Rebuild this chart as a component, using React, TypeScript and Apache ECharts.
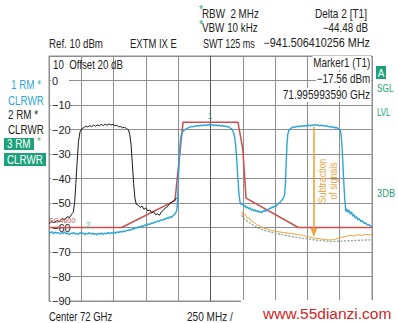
import React, { useEffect, useRef } from "react";
import * as echarts from "echarts";

const FONT = "'Liberation Sans', Arial, sans-serif";

// Frequency offsets from center (MHz), levels in dBm
const xTicks = { min: -1250, max: 1250, step: 250 };
const yTicks = { min: -90, max: 10, step: 10 };

const trace1Blue: [number, number][] = [
  [-1250,-61.6],[-1238,-62.2],[-1226,-61.7],[-1214,-62.5],[-1202,-61.9],[-1190,-62.3],[-1178,-62.0],[-1166,-62.7],[-1154,-62.1],[-1142,-62.4],
  [-1130,-61.8],[-1118,-62.6],[-1106,-62.2],[-1094,-62.9],[-1082,-62.3],[-1070,-62.5],[-1058,-62.0],[-1046,-62.7],[-1034,-62.4],[-1022,-62.8],
  [-1010,-62.1],[-998,-62.5],[-986,-62.2],[-974,-62.9],[-962,-62.4],[-950,-62.6],[-938,-62.1],[-926,-62.7],[-914,-62.3],[-902,-62.8],
  [-890,-62.5],[-878,-63.0],[-866,-62.4],[-854,-62.7],[-842,-62.2],[-830,-62.8],[-818,-62.3],[-806,-62.6],[-794,-62.0],[-782,-62.5],
  [-770,-62.1],[-758,-62.4],[-746,-61.9],[-734,-62.3],[-722,-61.8],[-710,-62.1],[-698,-61.6],[-686,-61.9],[-674,-61.4],[-662,-61.7],
  [-650,-61.1],[-638,-61.3],[-626,-60.8],[-614,-61.0],[-602,-60.4],[-590,-60.6],[-578,-60.0],[-566,-60.3],[-554,-59.6],[-542,-59.9],
  [-530,-59.3],[-518,-59.5],[-506,-58.9],[-494,-59.2],[-482,-58.5],[-470,-58.8],[-458,-58.1],[-446,-58.4],[-434,-57.7],[-422,-58.0],
  [-410,-57.3],[-398,-57.6],[-386,-56.9],[-374,-57.2],[-362,-56.5],[-350,-56.8],[-338,-56.0],[-326,-56.3],[-314,-55.6],[-302,-55.9],
  [-290,-55.2],[-278,-54.6],[-268,-54.0],[-260,-52.5],[-254,-48],[-248,-40],[-242,-32],[-236,-26],[-228,-22.5],[-218,-21.0],
  [-206,-20.4],[-194,-19.9],[-182,-19.6],[-170,-19.2],[-158,-19.0],[-146,-18.7],[-134,-18.9],[-122,-18.5],[-110,-18.7],[-98,-18.3],
  [-86,-18.6],[-74,-18.2],[-62,-18.5],[-50,-18.1],[-38,-18.4],[-26,-18.0],[-14,-18.3],[-4,-17.6],[6,-18.2],[18,-18.0],
  [30,-18.4],[42,-18.1],[54,-18.5],[66,-18.2],[78,-18.6],[90,-18.3],[102,-18.7],[114,-18.5],[126,-18.9],[138,-18.8],
  [150,-19.3],[160,-19.6],[170,-20.3],[180,-21.5],[188,-23.5],[196,-27],[204,-33],[212,-40],[220,-46],[228,-49.5],
  [236,-50.6],[246,-50.2],[256,-51.3],[266,-50.9],[276,-52.0],[286,-51.6],[296,-52.4],[306,-52.0],[316,-52.9],[326,-52.5],
  [336,-53.3],[346,-52.8],[356,-53.6],[366,-53.1],[376,-53.8],[386,-53.4],[396,-54.0],[406,-53.5],[416,-53.0],[426,-53.4],
  [436,-52.6],[446,-52.9],[456,-52.1],[466,-52.3],[476,-51.6],[486,-51.9],[496,-51.2],[506,-51.4],[516,-50.7],[526,-50.2],
  [536,-49.8],[546,-49.2],[556,-48.6],[566,-47.8],[574,-46.5],[580,-42],[586,-33],[592,-26],[598,-22],[606,-20.5],
  [616,-19.8],[628,-19.3],[640,-18.9],[652,-19.1],[664,-18.7],[676,-18.9],[688,-18.5],[700,-18.8],[712,-18.4],[724,-18.7],
  [736,-18.3],[748,-18.6],[760,-18.2],[772,-18.5],[784,-18.1],[796,-18.4],[808,-18.0],[820,-18.3],[832,-18.1],[844,-18.5],
  [856,-18.2],[868,-18.6],[880,-18.3],[892,-18.7],[904,-18.5],[916,-18.9],[928,-18.7],[940,-19.1],[952,-18.9],[964,-19.3],
  [976,-19.2],[988,-19.6],[1000,-20.0],[1008,-21],[1016,-25],[1024,-33],[1032,-42],[1040,-49],[1048,-53.5],[1056,-52.4],
  [1064,-53.8],[1072,-52.9],[1082,-54.6],[1092,-53.6],[1102,-55.4],[1112,-54.8],[1122,-56.2],[1132,-55.6],[1142,-56.9],[1152,-56.4],
  [1164,-57.6],[1176,-57.2],[1188,-58.3],[1200,-58.0],[1212,-58.9],[1224,-58.7],[1236,-59.4],[1250,-59.6],
];

const trace2Black: [number, number][] = [
  [-1250,-58.5],[-1230,-57.6],[-1210,-58.0],[-1190,-57.2],[-1170,-57.6],[-1150,-56.4],[-1130,-56.8],[-1110,-55.6],[-1090,-55.9],[-1075,-54.6],
  [-1062,-53.8],[-1052,-50],[-1042,-42],[-1032,-33],[-1022,-25],[-1010,-21],[-995,-19.6],[-980,-19.2],[-965,-18.6],[-950,-19.0],
  [-935,-18.4],[-920,-18.8],[-905,-18.2],[-890,-18.7],[-875,-18.1],[-860,-18.5],[-845,-17.9],[-830,-18.4],[-815,-17.8],[-800,-18.3],
  [-785,-17.7],[-770,-18.2],[-755,-17.9],[-740,-18.5],[-725,-18.3],[-710,-18.9],[-695,-18.8],[-680,-19.3],[-665,-19.1],[-650,-19.6],
  [-635,-20.2],[-625,-22],[-615,-26],[-605,-34],[-595,-42],[-585,-48],[-575,-50.5],[-560,-50.9],[-545,-51.8],[-530,-51.2],
  [-515,-52.6],[-500,-52.0],[-485,-53.2],[-470,-52.8],[-455,-54.0],[-440,-53.5],[-425,-54.8],[-410,-54.4],[-395,-55.0],[-380,-53.6],
  [-365,-53.0],[-350,-52.0],[-335,-51.6],[-320,-50.5],[-305,-50.0],[-290,-49.2],[-275,-48.6],[-262,-48.0],[-250,-47.5],
];

const trace3Orange: [number, number][] = [
  [240,-53.5],[255,-55.2],[270,-54.6],[285,-56.4],[300,-56.0],[320,-57.6],[340,-58.0],[360,-58.9],[380,-59.4],[410,-60.2],
  [440,-60.6],[470,-61.2],[500,-61.4],[530,-61.8],[560,-62.0],[600,-62.3],[640,-62.6],[680,-62.9],[720,-63.3],[760,-63.8],
  [800,-64.3],[840,-64.6],[880,-64.9],[920,-65.1],[960,-64.9],[990,-64.4],[1020,-63.9],[1050,-63.6],[1080,-63.2],[1110,-63.5],
  [1140,-63.0],[1170,-63.2],[1200,-62.8],[1230,-63.0],[1250,-62.7],
];

const traceGray: [number, number][] = [
  [240,-55],[260,-56.5],[280,-57.2],[300,-58.0],[330,-59.0],[360,-60.0],[400,-60.8],[440,-61.5],[480,-62.0],[520,-62.6],
  [560,-63.0],[600,-63.4],[640,-63.8],[680,-64.1],[720,-64.4],[760,-64.7],[800,-65.0],[840,-65.3],[880,-65.5],[920,-65.7],
  [960,-65.7],[1000,-65.6],[1040,-65.5],[1080,-65.4],[1120,-65.3],[1160,-65.2],[1200,-65.1],[1250,-65.0],
];

const limitLine: [number, number][] = [
  [-1250,-60],[-687.5,-60],[-275,-49],[-212.5,-17],[212.5,-17],[250,-28],[275,-48],[680,-60],[1250,-60],
];

const markerPoints: [number, number][] = [[-4, -17.56], [-945.5, -62.04]];
const markerNames = ["1", "2"];
const arrowPts: [number, number][] = [[800, -19], [800, -62]];

const GREEN = "#1ba27a";
const BLUE = "#2ea6d8";
const RED = "#cf4d4d";
const ORANGE = "#f0a23e";
const GRID = "#8e8e8e";

function txt(x: number, y: number, text: string, opts: any = {}) {
  const { align = "left", fill = "#222", size = 12, bg, padding, z = 100, family = FONT, sx = 0.82 } = opts;
  return {
    type: "text", x, y, z, scaleX: sx,
    style: {
      text, fill, font: `${size}px ${family}`,
      align, textAlign: align, verticalAlign: "middle", textVerticalAlign: "middle",
      ...(bg ? { backgroundColor: bg, padding: padding || [1, 1, 1, 1] } : {}),
    },
  };
}

export default function App() {
  const ref = useRef<HTMLDivElement>(null);
  useEffect(() => {
    if (!ref.current) return;
    const chart = echarts.init(ref.current, null, { renderer: "svg" });
    const minus = (v: number) => (v < 0 ? "\u2212" + Math.abs(v) : String(v));
    chart.setOption({
      animation: false,
      backgroundColor: "#fff",
      grid: { left: 49, top: 56, right: 26, bottom: 22, show: true, borderColor: GRID, borderWidth: 1 },
      xAxis: {
        type: "value", min: xTicks.min, max: xTicks.max, interval: xTicks.step,
        axisLine: { show: false }, axisTick: { show: false }, axisLabel: { show: false },
        splitLine: { show: true, lineStyle: { color: GRID, width: 1 } },
      },
      yAxis: {
        type: "value", min: yTicks.min, max: yTicks.max, interval: yTicks.step,
        axisLine: { show: true, lineStyle: { color: "#555", width: 1 } },
        axisTick: { show: false },
        splitLine: { show: true, lineStyle: { color: GRID, width: 1 } },
        axisLabel: {
          inside: true, margin: 2, color: "#222", fontFamily: FONT, fontSize: 11,
          formatter: (v: number) => (v === yTicks.max ? "" : minus(v)),
          backgroundColor: "#fff", width: 17, padding: [0, 0, 0, 1], align: "left",
        },
      },
      series: [
        { type: "line", data: limitLine, showSymbol: false, lineStyle: { color: RED, width: 1.5 }, itemStyle: { color: RED }, z: 2 },
        { type: "line", data: traceGray, showSymbol: false, lineStyle: { color: "#8aa592", width: 1.3, type: [2, 1.5] }, z: 3 },
        {
          type: "line", data: trace3Orange, showSymbol: false, lineStyle: { color: ORANGE, width: 1 }, z: 4,
          markLine: {
            silent: true, symbol: ["none", "triangle"], symbolSize: [7, 9], animation: false,
            lineStyle: { color: ORANGE, width: 1.6, type: "solid" }, label: { show: false },
            data: [[{ coord: arrowPts[0] }, { coord: arrowPts[1] }]],
          },
        },
        { type: "line", data: trace2Black, showSymbol: false, lineStyle: { color: "#1a1a1a", width: 1 }, z: 5 },
        { type: "line", data: trace1Blue, showSymbol: false, lineStyle: { color: BLUE, width: 1.4 }, z: 6 },
        {
          type: "scatter", data: markerPoints, symbolSize: 0, z: 7,
          label: {
            show: true, position: "top", distance: 3, color: GREEN, fontSize: 9, fontFamily: FONT,
            formatter: (p: any) => markerNames[p.dataIndex],
          },
        },
      ],
      graphic: [
        txt(49, 44, "Ref. 10 dBm", { sx: 0.81 }),
        txt(130, 44, "EXTM IX E", { sx: 0.79 }),
        txt(199, 9, "*", { fill: GREEN, size: 10, sx: 1 }),
        txt(202, 14, "RBW  2 MHz"),
        txt(199, 24, "*", { fill: GREEN, size: 10, sx: 1 }),
        txt(202, 28, "VBW 10 kHz"),
        txt(203, 43, "SWT 125 ms", { sx: 0.75 }),
        txt(367, 14, "Delta 2 [T1]", { align: "right", sx: 0.84 }),
        txt(368, 28, "\u221244.48 dB", { align: "right" }),
        txt(370, 43, "\u2212941.506410256 MHz", { align: "right", sx: 0.9 }),
        txt(53, 65, "10  Offset 20 dB", { sx: 0.81 }),
        txt(371, 63, "Marker1 (T1)", { align: "right", bg: "#fff" }),
        txt(371, 79, "\u221217.56 dBm", { align: "right", bg: "#fff" }),
        txt(371, 95, "71.995993590 GHz", { align: "right", bg: "#fff", sx: 0.84 }),
        { type: "rect", z: 100, shape: { x: 376, y: 66, width: 10, height: 13 }, style: { fill: GREEN } },
        txt(381, 73, "A", { align: "center", fill: "#fff", size: 11, sx: 0.9 }),
        txt(377, 88, "SGL", { fill: GREEN, size: 11, sx: 0.75 }),
        txt(377, 112, "LVL", { fill: GREEN, size: 11, sx: 0.72 }),
        txt(377, 193, "3DB", { fill: GREEN, size: 11, sx: 0.85 }),
        txt(11, 85, "1 RM *", { fill: BLUE }),
        txt(8, 101, "CLRWR", { fill: BLUE }),
        txt(8, 115, "2 RM *", { fill: "#222" }),
        txt(8, 130, "CLRWR", { fill: "#222" }),
        { type: "rect", z: 100, shape: { x: 4, y: 138, width: 30, height: 12 }, style: { fill: GREEN } },
        txt(7, 144, "3 RM", { fill: "#fff" }),
        txt(37, 141, "*", { fill: "#7a9a8a", size: 10, sx: 1 }),
        { type: "rect", z: 100, shape: { x: 4, y: 153, width: 42, height: 13 }, style: { fill: GREEN } },
        txt(7, 159.5, "CLRWR", { fill: "#fff" }),
        txt(49, 220, "EG4600", { fill: RED, size: 8, sx: 0.9 }),
        {
          type: "text", x: 328, y: 181, rotation: Math.PI / 2, scaleX: 0.8, z: 100,
          style: {
            text: "Subtraction\nof signals", fill: ORANGE, font: `11px ${FONT}`, lineHeight: 11,
            align: "center", textAlign: "center", verticalAlign: "middle", textVerticalAlign: "middle",
          },
        },
        { type: "rect", z: 99, shape: { x: 241, y: 300, width: 132, height: 3 }, style: { fill: "#fff" } },
        txt(49, 317, "Center 72 GHz", { sx: 0.79 }),
        txt(187, 317, "250 MHz /", { sx: 0.84 }),
        txt(263, 313, "www.55dianzi.com", { fill: "#d42323", size: 15.5, sx: 1 }),
      ],
    });
    return () => chart.dispose();
  }, []);
  return <div ref={ref} style={{ position: "absolute", left: 0, top: 0, width: 398, height: 323, background: "#fff" }} />;
}
